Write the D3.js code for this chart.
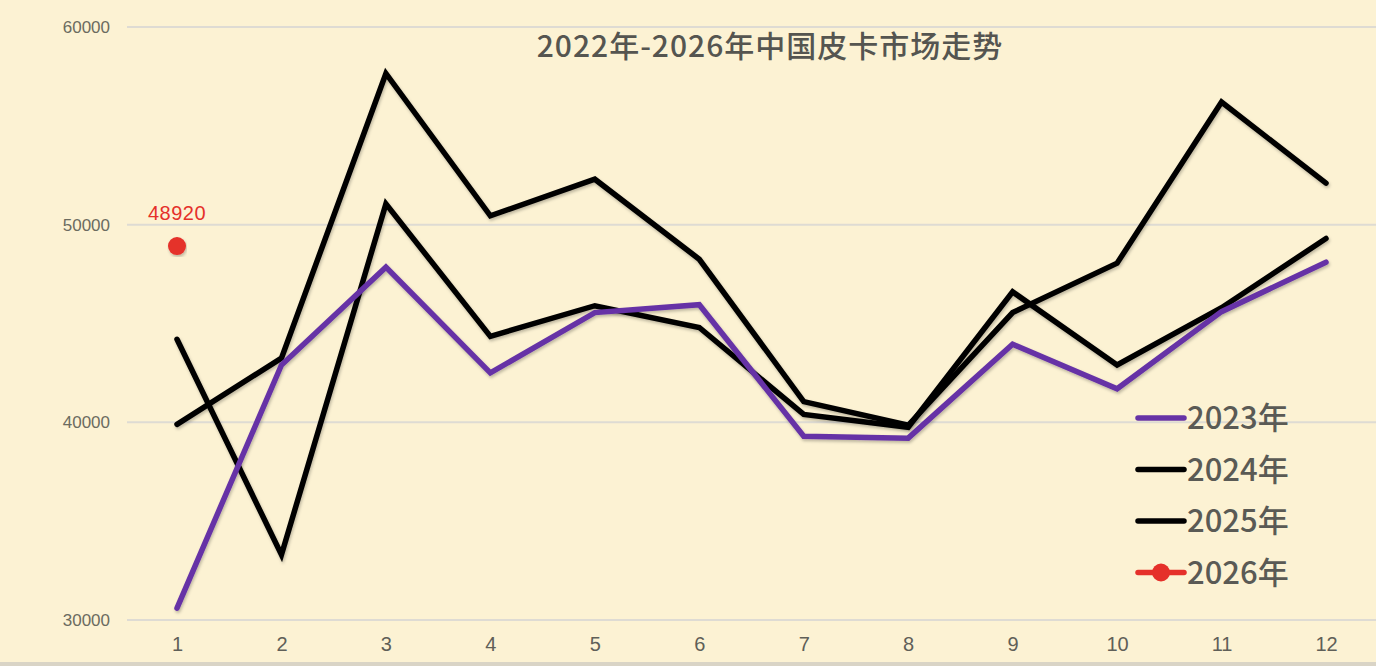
<!DOCTYPE html>
<html>
<head>
<meta charset="utf-8">
<script src="https://cdn.jsdelivr.net/npm/d3@7"></script>
<style>
  html, body { margin: 0; padding: 0; background: #fcf2d3; }
  #chart { width: 1376px; height: 666px; }
</style>
</head>
<body>
<div id="chart"></div>
<script>
const months = [1, 2, 3, 4, 5, 6, 7, 8, 9, 10, 11, 12]
const yTicks = [30000, 40000, 50000, 60000]

const s2023 = [30600, 42900, 47850, 42500, 45550, 45950, 39300, 39200, 43950, 41700, 45600, 48100]
const s2024 = [44200, 33300, 51050, 44350, 45900, 44800, 40400, 39750, 46600, 42900, 45800, 49300]
const s2025 = [39900, 43250, 57650, 50450, 52300, 48250, 41050, 39850, 45550, 48050, 56200, 52100]
const s2026 = [48920]

const series = [
  {name: "2023年", values: s2023, color: "#6633a6"},
  {name: "2024年", values: s2024, color: "#000000"},
  {name: "2025年", values: s2025, color: "#000000"},
]

const width = 1376
const height = 666
const cjk = "'Noto Sans CJK SC', 'Noto Sans', sans-serif"
const latin = "'Liberation Sans', Arial, sans-serif"

const svg = d3.select("#chart").append("svg")
  .attr("width", width)
  .attr("height", height)

const defs = svg.append("defs")
const shadow = defs.append("filter").attr("id", "shadow")
  .attr("x", "-5%").attr("y", "-5%").attr("width", "110%").attr("height", "115%")
shadow.append("feDropShadow")
  .attr("dx", 1).attr("dy", 2).attr("stdDeviation", 1.5)
  .attr("flood-color", "#000").attr("flood-opacity", 0.25)

svg.append("rect")
  .attr("width", width).attr("height", height)
  .attr("fill", "#fcf2d3")

// bottom edge
svg.append("rect")
  .attr("x", 0).attr("y", 662).attr("width", width).attr("height", 4)
  .attr("fill", "#d9d4c6")

const xScale = d3.scalePoint()
  .domain(months)
  .range([177, 1326])

const yScale = d3.scaleLinear()
  .domain([30000, 60000])
  .range([620, 27])

// grid
svg.append("g")
  .selectAll("line")
  .data(yTicks)
  .enter()
  .append("line")
    .attr("x1", 127)
    .attr("x2", width)
    .attr("y1", d => yScale(d))
    .attr("y2", d => yScale(d))
    .attr("stroke", "#dedbd3")
    .attr("stroke-width", 2)

// y labels
const yAxis = d3.axisLeft(yScale).tickValues(yTicks).tickFormat(d3.format("d")).tickSize(0).tickPadding(0)
svg.append("g")
  .attr("transform", "translate(110,0)")
  .call(yAxis)
  .call(g => g.select(".domain").remove())
  .call(g => g.selectAll("text")
    .style("fill", "#6b6b60")
    .style("font-size", "17px")
    .style("font-family", latin))

// x labels
const xAxis = d3.axisBottom(xScale).tickSize(0).tickPadding(0)
svg.append("g")
  .attr("transform", "translate(0,637)")
  .call(xAxis)
  .call(g => g.select(".domain").remove())
  .call(g => g.selectAll("text")
    .style("fill", "#5f5f58")
    .style("font-size", "20px")
    .style("font-family", latin))

// title
svg.append("text")
  .attr("x", 770)
  .attr("y", 57)
  .attr("text-anchor", "middle")
  .style("font-size", "30px")
  .style("font-weight", "500")
  .style("letter-spacing", "1px")
  .style("font-family", cjk)
  .style("fill", "#555550")
  .text("2022年-2026年中国皮卡市场走势")

const line = d3.line()
  .x((d, i) => xScale(months[i]))
  .y(d => yScale(d))

const drawOrder = [series[2], series[1], series[0]]
svg.append("g")
  .selectAll("path")
  .data(drawOrder)
  .enter()
  .append("path")
    .attr("d", d => line(d.values))
    .attr("fill", "none")
    .attr("stroke", d => d.color)
    .attr("stroke-width", 5.5)
    .attr("stroke-linejoin", "miter")
    .attr("stroke-linecap", "round")
    .attr("filter", "url(#shadow)")

// 2026 point
svg.append("g")
  .selectAll("circle")
  .data(s2026)
  .enter()
  .append("circle")
    .attr("cx", (d, i) => xScale(months[i]))
    .attr("cy", d => yScale(d))
    .attr("r", 9)
    .attr("fill", "#e5302a")
    .attr("filter", "url(#shadow)")

svg.append("g")
  .selectAll("text")
  .data(s2026)
  .enter()
  .append("text")
    .attr("x", (d, i) => xScale(months[i]))
    .attr("y", d => yScale(d) - 26)
    .attr("text-anchor", "middle")
    .style("font-size", "20px")
    .style("letter-spacing", "0.5px")
    .style("font-family", latin)
    .style("fill", "#e5302a")
    .text(d => d)

// legend
const legendItems = [
  {name: "2023年", color: "#6633a6", dot: false},
  {name: "2024年", color: "#000000", dot: false},
  {name: "2025年", color: "#000000", dot: false},
  {name: "2026年", color: "#e5302a", dot: true},
]

const legend = svg.append("g")
  .selectAll("g")
  .data(legendItems)
  .enter()
  .append("g")
    .attr("transform", (d, i) => `translate(1136,${418 + i * 51.5})`)

legend.append("line")
  .attr("x1", 2).attr("x2", 48)
  .attr("y1", 0).attr("y2", 0)
  .attr("stroke", d => d.color)
  .attr("stroke-width", 5.5)
  .attr("stroke-linecap", "round")

legend.filter(d => d.dot)
  .append("circle")
    .attr("cx", 25).attr("cy", 0).attr("r", 9)
    .attr("fill", d => d.color)

legend.append("text")
  .attr("x", 51)
  .attr("y", 11)
  .style("font-size", "31px")
  .style("font-weight", "500")
  .style("font-family", cjk)
  .style("fill", "#5a5a55")
  .text(d => d.name)
</script>
</body>
</html>
